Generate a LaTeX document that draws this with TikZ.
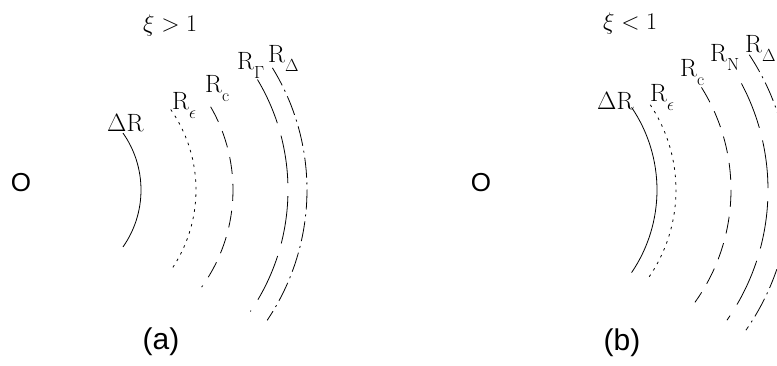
\RequirePackage{fix-cm}
\documentclass[tikz,border=0pt]{standalone}
\usepackage{fontspec}
\newfontfamily\sansA{Liberation Sans}
\newcommand{\lowsub}[1]{\raisebox{-5pt}{$\scriptstyle #1$}}
\tikzset{
  arcline/.style={line width=0.8pt},
  solidarc/.style={arcline},
  dotarc/.style={arcline, dash pattern=on 2.5pt off 5pt},
  dasharc/.style={arcline, dash pattern=on 17pt off 10pt},
  longarc/.style={arcline, dash pattern=on 48pt off 13pt},
  dashdotarc/.style={arcline, dash pattern=on 20pt off 5pt on 2pt off 5pt},
  lab/.style={inner sep=0pt, anchor=base west, font=\fontsize{25}{30}\selectfont},
  xilab/.style={inner sep=0pt, anchor=base west, font=\fontsize{24}{28}\selectfont},
  olab/.style={inner sep=0pt, font=\sansA\fontsize{26}{30}\selectfont},
  caplab/.style={inner sep=0pt, font=\sansA\fontsize{30}{34}\selectfont}
}
\begin{document}
\begin{tikzpicture}[x=1pt,y=-1pt]
\useasboundingbox (0,0) rectangle (777,366);
% ---------- panel (a) ----------
\node[olab] (Oa) at (21,183) {O};
\node[caplab] (capa) at (161,342) {(a)};
\node[xilab] (xia) at (143,32) {$\xi > 1$};
\node[lab] (dRa) at (107,132) {$\Delta\mathrm{R}$};
\node[lab] (Rea) at (172,110) {$\mathrm{R}_{\lowsub{\epsilon}}$};
\node[lab] (Rca) at (205,93) {$\mathrm{R}_{\lowsub{\mathrm{c}}}$};
\node[lab] (RGa) at (237,70) {$\mathrm{R}_{\lowsub{\Gamma}}$};
\node[lab] (RDa) at (268,63) {$\mathrm{R}_{\lowsub{\Delta}}$};
\draw[solidarc]   (42,190) ++(-35.1:99)  arc[start angle=-35.1, end angle=35.1, radius=99];
\draw[dotarc]     (55,190) ++(-34.8:141) arc[start angle=-34.8, end angle=35.3, radius=141];
\draw[dasharc]    (67,190) ++(-30.1:166) arc[start angle=-30.1, end angle=35.8, radius=166];
\draw[longarc]    (73,190) ++(-30.9:215) arc[start angle=-30.9, end angle=34.4, radius=215];
\draw[dashdotarc] (74,190) ++(-31.6:233) arc[start angle=-31.6, end angle=34.0, radius=233];
% ---------- panel (b) ----------
\node[olab] (Ob) at (481,183) {O};
\node[caplab] (capb) at (622,343) {(b)};
\node[xilab] (xib) at (603,30) {$\xi < 1$};
\node[lab] (dRb) at (597,110) {$\Delta\mathrm{R}$};
\node[lab] (Reb) at (650,102) {$\mathrm{R}_{\lowsub{\epsilon}}$};
\node[lab] (Rcb) at (680,77) {$\mathrm{R}_{\lowsub{\mathrm{c}}}$};
\node[lab] (RNb) at (710,62) {$\mathrm{R}_{\lowsub{\mathrm{N}}}$};
\node[lab] (RDb) at (745,53) {$\mathrm{R}_{\lowsub{\Delta}}$};
\begin{scope}
\clip (0,0) rectangle (777,366);
\draw[solidarc]   (510,190) ++(-34.2:147) arc[start angle=-34.2, end angle=34.2, radius=147];
\draw[dotarc]     (522,190) ++(-33.6:154) arc[start angle=-33.6, end angle=35.2, radius=154];
\draw[dasharc]    (538,190) ++(-32.1:193) arc[start angle=-32.1, end angle=35.6, radius=193];
\draw[longarc]    (541,190) ++(-28.0:227) arc[start angle=-28.0, end angle=35.0, radius=227];
\draw[dashdotarc] (545,190) ++(-33.5:245) arc[start angle=-33.5, end angle=34.9, radius=245];
\end{scope}
\end{tikzpicture}
\end{document}
